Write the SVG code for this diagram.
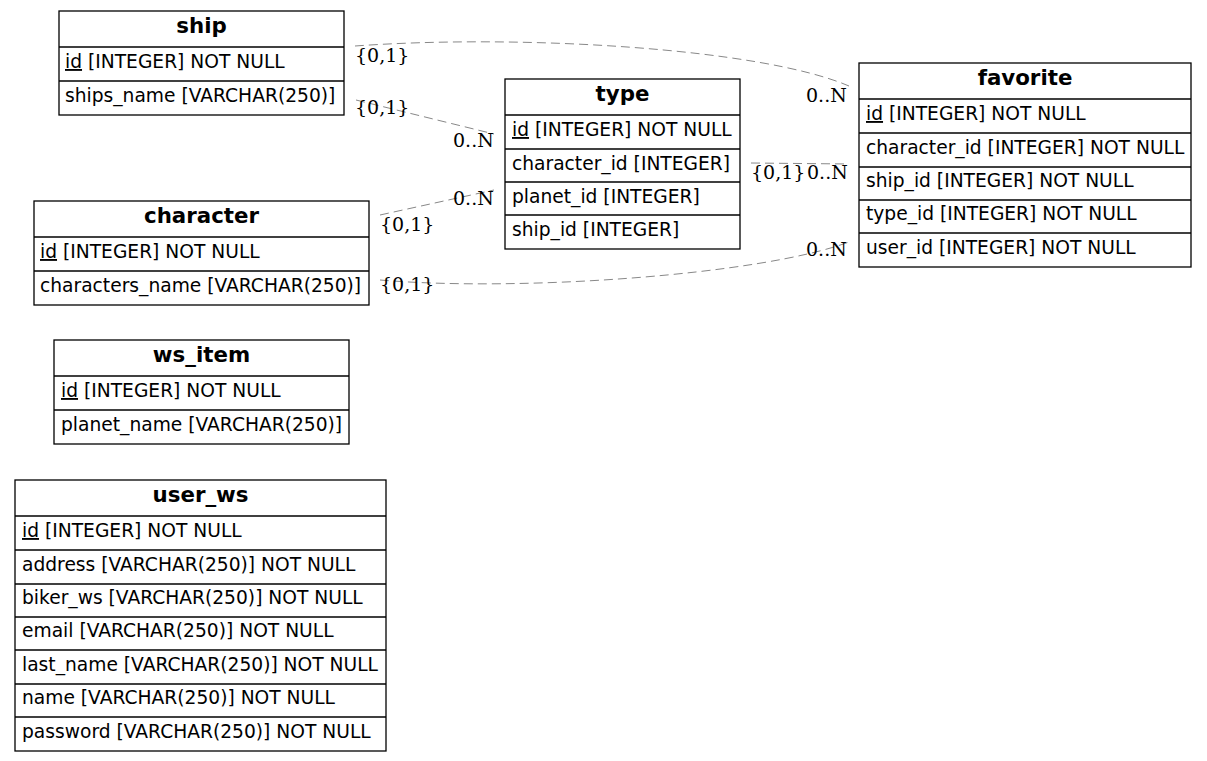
<svg xmlns="http://www.w3.org/2000/svg" width="1207" height="761" viewBox="0 0 1207 761">
<style>
.box{fill:#fff;stroke:#000;stroke-width:1.3}
.ln{stroke:#000;stroke-width:1.3}
.t{font-family:"DejaVu Sans",sans-serif;font-size:18.67px;fill:#000}
.h{font-family:"DejaVu Sans",sans-serif;font-size:21.33px;font-weight:bold;fill:#000;text-anchor:middle}
.e{fill:none;stroke:#888;stroke-width:1;stroke-dasharray:9,5}
.l{font-family:"DejaVu Serif",serif;font-size:19px;fill:#000}
.u{text-decoration:underline}
</style>
<rect width="1207" height="761" fill="#fff"/>
<g id="connectors">
<path class="e" d="M355,46 C520,34 760,48 849,86"/>
<path class="e" d="M356,100 L494,134"/>
<path class="e" d="M380,215 L494,190"/>
<path class="e" d="M380,280 C520,292 760,275 849,242"/>
<path class="e" d="M751,163 L849,164"/>
<text class="l" x="355" y="62">{0,1}</text>
<text class="l" x="355" y="114">{0,1}</text>
<text class="l" x="453" y="147">0..N</text>
<text class="l" x="380" y="231">{0,1}</text>
<text class="l" x="453" y="205">0..N</text>
<text class="l" x="380" y="291">{0,1}</text>
<text class="l" x="806" y="102">0..N</text>
<text class="l" x="751" y="179">{0,1}</text>
<text class="l" x="807" y="179">0..N</text>
<text class="l" x="806" y="256">0..N</text>
</g>
<g id="ship">
<rect class="box" x="59" y="11" width="285" height="104"/>
<line class="ln" x1="59" y1="47" x2="344" y2="47"/>
<line class="ln" x1="59" y1="81" x2="344" y2="81"/>
<text class="h" x="201.5" y="33">ship</text>
<text class="t" x="65" y="68"><tspan class="u">id</tspan> [INTEGER] NOT NULL</text>
<text class="t" x="65" y="102">ships_name [VARCHAR(250)]</text>
</g>
<g id="type">
<rect class="box" x="505" y="79" width="235" height="170"/>
<line class="ln" x1="505" y1="115" x2="740" y2="115"/>
<line class="ln" x1="505" y1="149" x2="740" y2="149"/>
<line class="ln" x1="505" y1="182" x2="740" y2="182"/>
<line class="ln" x1="505" y1="215" x2="740" y2="215"/>
<text class="h" x="622.5" y="101">type</text>
<text class="t" x="512" y="136"><tspan class="u">id</tspan> [INTEGER] NOT NULL</text>
<text class="t" x="512" y="170">character_id [INTEGER]</text>
<text class="t" x="512" y="203">planet_id [INTEGER]</text>
<text class="t" x="512" y="236">ship_id [INTEGER]</text>
</g>
<g id="favorite">
<rect class="box" x="859" y="63" width="332" height="204"/>
<line class="ln" x1="859" y1="99" x2="1191" y2="99"/>
<line class="ln" x1="859" y1="133" x2="1191" y2="133"/>
<line class="ln" x1="859" y1="167" x2="1191" y2="167"/>
<line class="ln" x1="859" y1="200" x2="1191" y2="200"/>
<line class="ln" x1="859" y1="233" x2="1191" y2="233"/>
<text class="h" x="1025" y="85">favorite</text>
<text class="t" x="866" y="120"><tspan class="u">id</tspan> [INTEGER] NOT NULL</text>
<text class="t" x="866" y="154">character_id [INTEGER] NOT NULL</text>
<text class="t" x="866" y="187">ship_id [INTEGER] NOT NULL</text>
<text class="t" x="866" y="220">type_id [INTEGER] NOT NULL</text>
<text class="t" x="866" y="254">user_id [INTEGER] NOT NULL</text>
</g>
<g id="character">
<rect class="box" x="34" y="201" width="335" height="104"/>
<line class="ln" x1="34" y1="237" x2="369" y2="237"/>
<line class="ln" x1="34" y1="271" x2="369" y2="271"/>
<text class="h" x="201.5" y="223">character</text>
<text class="t" x="40" y="258"><tspan class="u">id</tspan> [INTEGER] NOT NULL</text>
<text class="t" x="40" y="292">characters_name [VARCHAR(250)]</text>
</g>
<g id="ws_item">
<rect class="box" x="54" y="340" width="295" height="104"/>
<line class="ln" x1="54" y1="376" x2="349" y2="376"/>
<line class="ln" x1="54" y1="410" x2="349" y2="410"/>
<text class="h" x="201.5" y="362">ws_item</text>
<text class="t" x="61" y="397"><tspan class="u">id</tspan> [INTEGER] NOT NULL</text>
<text class="t" x="61" y="431">planet_name [VARCHAR(250)]</text>
</g>
<g id="user_ws">
<rect class="box" x="15" y="480" width="371" height="271"/>
<line class="ln" x1="15" y1="516" x2="386" y2="516"/>
<line class="ln" x1="15" y1="550" x2="386" y2="550"/>
<line class="ln" x1="15" y1="584" x2="386" y2="584"/>
<line class="ln" x1="15" y1="617" x2="386" y2="617"/>
<line class="ln" x1="15" y1="650" x2="386" y2="650"/>
<line class="ln" x1="15" y1="684" x2="386" y2="684"/>
<line class="ln" x1="15" y1="717" x2="386" y2="717"/>
<text class="h" x="200.5" y="502">user_ws</text>
<text class="t" x="22" y="537"><tspan class="u">id</tspan> [INTEGER] NOT NULL</text>
<text class="t" x="22" y="571">address [VARCHAR(250)] NOT NULL</text>
<text class="t" x="22" y="604">biker_ws [VARCHAR(250)] NOT NULL</text>
<text class="t" x="22" y="637">email [VARCHAR(250)] NOT NULL</text>
<text class="t" x="22" y="671">last_name [VARCHAR(250)] NOT NULL</text>
<text class="t" x="22" y="704">name [VARCHAR(250)] NOT NULL</text>
<text class="t" x="22" y="738">password [VARCHAR(250)] NOT NULL</text>
</g>
</svg>
